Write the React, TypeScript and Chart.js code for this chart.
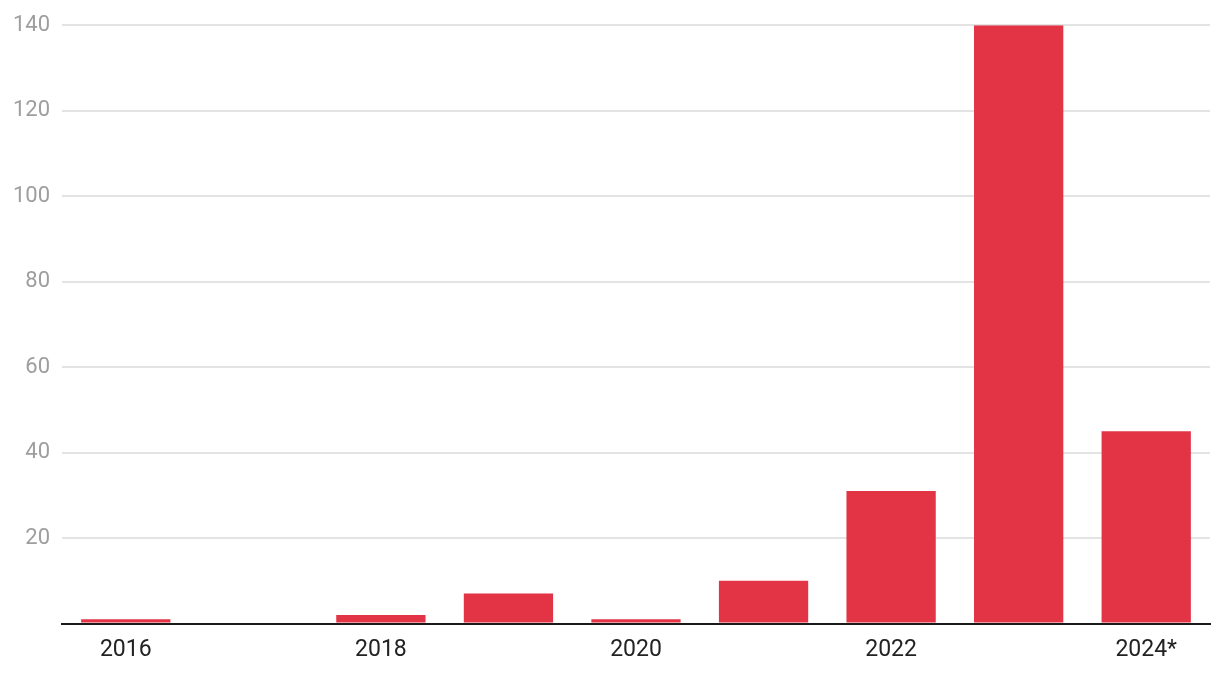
import React, { useEffect, useRef } from "react";
import { Chart, registerables } from "chart.js";

Chart.register(...registerables);

const categories = ["2016", "2017", "2018", "2019", "2020", "2021", "2022", "2023", "2024*"];
const values = [1, 0, 2, 7, 1, 10, 31, 140, 45];
const yTicks = [0, 20, 40, 60, 80, 100, 120, 140];

export default function App() {
  const ref = useRef<HTMLCanvasElement | null>(null);
  useEffect(() => {
    if (!ref.current) return;
    const chart = new Chart(ref.current, {
      type: "bar",
      data: {
        labels: categories,
        datasets: [
          {
            data: values,
            backgroundColor: "#e33446",
            borderWidth: 0,
            categoryPercentage: 1,
            barPercentage: 0.7,
          },
        ],
      },
      options: {
        animation: false,
        responsive: true,
        maintainAspectRatio: false,
        layout: { padding: { top: 24, right: 10, bottom: 0, left: 0 } },
        plugins: { legend: { display: false }, tooltip: { enabled: false } },
        scales: {
          x: {
            grid: { display: false },
            border: { display: true, color: "#1a1a1a", width: 2 },
            ticks: {
              autoSkip: false,
              maxRotation: 0,
              padding: 5,
              color: "#222222",
              font: { family: "Roboto", size: 23 },
              callback: (_v: any, i: number) => (i % 2 === 0 ? categories[i] : ""),
            },
            afterFit: (s: any) => {
              s.height = 54.5;
            },
          },
          y: {
            min: yTicks[0],
            max: yTicks[yTicks.length - 1],
            afterBuildTicks: (s: any) => {
              s.ticks = yTicks.map((v) => ({ value: v }));
            },
            grid: { color: "#e3e3e3", lineWidth: 2, drawTicks: false },
            border: { display: false },
            ticks: {
              padding: 12,
              color: "#9e9e9e",
              font: { family: "Roboto", size: 22 },
              callback: (v: any) => (v === 0 ? "" : String(v)),
            },
            afterFit: (s: any) => {
              s.width = 62;
            },
          },
        },
      },
    });
    return () => chart.destroy();
  }, []);
  return (
    <div style={{ position: "fixed", left: 0, top: 0, width: 1220, height: 678, background: "#fff" }}>
      <canvas ref={ref} />
    </div>
  );
}
